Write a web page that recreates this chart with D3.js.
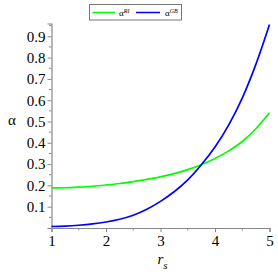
<!DOCTYPE html>
<html><head><meta charset="utf-8">
<script src="https://cdn.jsdelivr.net/npm/d3@7"></script>
<style>body{margin:0;background:#fff}svg{display:block}</style>
</head><body>
<svg id="c" width="278" height="278"></svg>
<script>
const rs = [1.0,1.25,1.5,1.75,2.0,2.25,2.5,2.75,3.0,3.25,3.5,3.75,4.0,4.25,4.5,4.75,5.0];
const alphaRI = [0.188,0.189,0.192,0.196,0.202,0.209,0.218,0.228,0.240,0.255,0.274,0.297,0.326,0.362,0.406,0.466,0.541];
const alphaGB = [0.007,0.009,0.013,0.019,0.028,0.041,0.060,0.088,0.125,0.170,0.226,0.297,0.380,0.483,0.610,0.768,0.955];
const xTicks = [1,2,3,4,5];
const yTicks = [0.1,0.2,0.3,0.4,0.5,0.6,0.7,0.8,0.9];
const xMinor = [1.5,2.5,3.5,4.5];
const yMinor = [0.05,0.15,0.25,0.35,0.45,0.55,0.65,0.75,0.85,0.95];
const seriesNames = ["RI","GB"];
const seriesColors = ["#00ff00","#0000ff"];

const FONT = '"Liberation Serif"';
const svg = d3.select("#c");
const x = d3.scaleLinear().domain([1,5]).range([51.5,269.5]);
const y = d3.scaleLinear().domain([0,0.96]).range([228,23.5]);

const xAxis = svg.append("g").attr("transform",`translate(0,${y(0)})`)
  .call(d3.axisBottom(x).tickValues(xTicks).tickFormat(d3.format("d")).tickSize(4).tickPadding(3));
const yAxis = svg.append("g").attr("transform",`translate(${x(1)},0)`)
  .call(d3.axisLeft(y).tickValues(yTicks).tickFormat(d3.format(".1f")).tickSize(4).tickPadding(2));
[xAxis,yAxis].forEach(g=>{
  g.select(".domain").attr("stroke","#888").attr("stroke-width",1.2);
  g.selectAll(".tick line").attr("stroke","#888");
  g.selectAll("text").style("font-family",FONT).style("font-size","15px").attr("fill","#000");
});
svg.append("g").selectAll("line").data(xMinor).join("line")
  .attr("x1",d=>x(d)).attr("x2",d=>x(d)).attr("y1",y(0)).attr("y2",y(0)+2.5).attr("stroke","#888");
svg.append("g").selectAll("line").data(yMinor).join("line")
  .attr("x1",x(1)).attr("x2",x(1)-2.5).attr("y1",d=>y(d)).attr("y2",d=>y(d)).attr("stroke","#888");

const line = d3.line().x(d=>x(d[0])).y(d=>y(d[1])).curve(d3.curveCatmullRom);
[alphaRI,alphaGB].forEach((vals,i)=>{
  svg.append("path").datum(rs.map((r,j)=>[r,vals[j]]))
    .attr("d",line).attr("fill","none").attr("stroke",seriesColors[i]).attr("stroke-width",1.7);
});

const xt = svg.append("text").attr("x",x(3)-3).attr("y",264).style("font-family",FONT).style("font-size","15px").style("font-style","italic");
xt.append("tspan").text("r");
xt.append("tspan").attr("dy",5).style("font-size","11px").text("s");
svg.append("text").attr("x",12).attr("y",125).attr("text-anchor","middle").style("font-family",FONT).style("font-size","15px").text("α");

const lg = svg.append("g");
lg.append("rect").attr("x",89.5).attr("y",4.5).attr("width",92).attr("height",15.5).attr("fill","#fff").attr("stroke","#777").attr("stroke-width",1);
const lx = [[92.5,115,119],[136,160,165]];
seriesNames.forEach((n,i)=>{
  lg.append("line").attr("x1",lx[i][0]).attr("x2",lx[i][1]).attr("y1",12.5).attr("y2",12.5).attr("stroke",seriesColors[i]).attr("stroke-width",1.5);
  const t = lg.append("text").attr("x",lx[i][2]).attr("y",15.5).style("font-family",FONT).style("font-size","9px");
  t.append("tspan").text("α");
  t.append("tspan").attr("dy",-3).style("font-size","6px").style("font-style","italic").text(n);
});
</script>
</body></html>
